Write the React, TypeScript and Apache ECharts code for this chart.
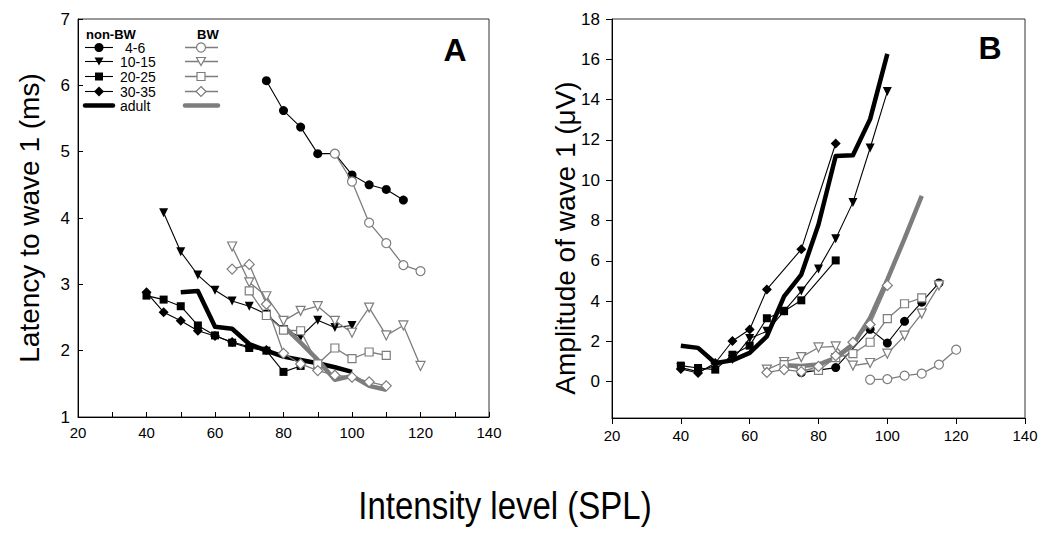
import React, { useEffect, useRef } from "react";
import * as echarts from "echarts";

// ---------- Panel A: latency to wave 1 (ms) ----------
const A_NON_4_6: [number, number][] = [[75, 6.07], [80, 5.62], [85, 5.37], [90, 4.97], [95, 4.97], [100, 4.65], [105, 4.5], [110, 4.43], [115, 4.27]];
const A_NON_10_15: [number, number][] = [[45, 4.08], [50, 3.49], [55, 3.14], [60, 2.91], [65, 2.75], [70, 2.67], [75, 2.55], [80, 2.32], [85, 2.21], [90, 2.46], [95, 2.35], [100, 2.38]];
const A_NON_20_25: [number, number][] = [[40, 2.83], [45, 2.77], [50, 2.67], [55, 2.38], [60, 2.23], [65, 2.12], [70, 2.04], [75, 2.0], [80, 1.68], [85, 1.77]];
const A_NON_30_35: [number, number][] = [[40, 2.88], [45, 2.58], [50, 2.45], [55, 2.3], [60, 2.22], [65, 2.13], [70, 2.06], [75, 2.01]];
const A_NON_ADULT: [number, number][] = [[50, 2.88], [55, 2.9], [60, 2.36], [65, 2.33], [70, 2.1], [75, 2.0], [80, 1.91], [85, 1.86], [90, 1.81], [95, 1.75], [100, 1.68]];
const A_BW_4_6: [number, number][] = [[95, 4.97], [100, 4.55], [105, 3.93], [110, 3.62], [115, 3.29], [120, 3.2]];
const A_BW_10_15: [number, number][] = [[65, 3.57], [70, 3.03], [75, 2.82], [80, 2.45], [85, 2.6], [90, 2.67], [95, 2.45], [100, 2.27], [105, 2.65], [110, 2.23], [115, 2.38], [120, 1.77]];
const A_BW_20_25: [number, number][] = [[70, 2.9], [75, 2.53], [80, 2.31], [85, 2.3], [90, 1.8], [95, 2.04], [100, 1.88], [105, 1.98], [110, 1.93]];
const A_BW_30_35: [number, number][] = [[65, 3.23], [70, 3.3], [75, 2.7], [80, 1.96], [85, 1.8], [90, 1.7], [95, 1.63], [100, 1.6], [105, 1.53], [110, 1.47]];
const A_BW_ADULT: [number, number][] = [[80, 2.37], [85, 2.12], [90, 1.86], [95, 1.56], [100, 1.62], [105, 1.47], [110, 1.41]];

// ---------- Panel B: amplitude of wave 1 (µV) ----------
const B_NON_4_6: [number, number][] = [[75, 0.45], [85, 0.7], [95, 2.6], [100, 1.92], [105, 3.0], [110, 3.95], [115, 4.9]];
const B_NON_10_15: [number, number][] = [[40, 0.7], [45, 0.5], [50, 0.8], [55, 1.1], [60, 2.15], [65, 2.5], [70, 3.5], [75, 4.5], [80, 5.6], [85, 7.1], [90, 8.9], [95, 11.6], [100, 14.4]];
const B_NON_20_25: [number, number][] = [[40, 0.8], [45, 0.68], [50, 0.6], [55, 1.34], [60, 1.79], [65, 3.15], [70, 3.5], [75, 4.04], [85, 6.02]];
const B_NON_30_35: [number, number][] = [[40, 0.63], [45, 0.43], [50, 0.93], [55, 2.02], [60, 2.59], [65, 4.58], [75, 6.57], [85, 11.82]];
const B_NON_ADULT: [number, number][] = [[40, 1.79], [45, 1.68], [50, 0.93], [55, 1.06], [60, 1.43], [65, 2.25], [70, 4.24], [75, 5.32], [80, 7.8], [85, 11.2], [90, 11.24], [95, 13.03], [100, 16.27]];
const B_BW_4_6: [number, number][] = [[95, 0.1], [100, 0.13], [105, 0.3], [110, 0.4], [115, 0.85], [120, 1.59]];
const B_BW_10_15: [number, number][] = [[65, 0.6], [70, 0.98], [75, 1.22], [80, 1.7], [85, 1.75], [90, 0.8], [95, 0.93], [100, 1.39], [105, 2.29], [110, 3.38], [115, 4.78]];
const B_BW_20_25: [number, number][] = [[70, 0.85], [75, 0.6], [80, 0.56], [85, 1.2], [90, 1.39], [95, 1.96], [100, 3.13], [105, 3.87], [110, 4.16]];
const B_BW_30_35: [number, number][] = [[65, 0.46], [70, 0.6], [75, 0.5], [80, 0.76], [85, 1.29], [90, 1.96], [95, 2.84], [100, 4.78]];
const B_BW_ADULT: [number, number][] = [[70, 0.82], [75, 0.78], [80, 0.85], [85, 1.18], [90, 1.84], [95, 3.17], [100, 5.07], [105, 7.1], [110, 9.22]];

// ---------- Tick values ----------
const X_LABELS = [20, 40, 60, 80, 100, 120, 140];
const X_TICKS_A = [20, 30, 40, 50, 60, 70, 80, 90, 100, 110, 120, 130, 140];
const Y_TICKS_A = [1, 2, 3, 4, 5, 6, 7];
const Y_TICKS_B = [0, 2, 4, 6, 8, 10, 12, 14, 16, 18];

const GROUPS = ["4-6", "10-15", "20-25", "30-35", "adult"];

const GRAY = "#7d7d7d";
const FONT = '"Liberation Sans", Arial, sans-serif';

type Kind = "circle" | "tri" | "square" | "diamond" | "adult";

function symbolOf(k: Kind) {
  if (k === "circle") return { symbol: "circle", symbolSize: 9, symbolRotate: 0 };
  if (k === "tri") return { symbol: "triangle", symbolSize: 9, symbolRotate: 180 };
  if (k === "square") return { symbol: "rect", symbolSize: 8, symbolRotate: 0 };
  if (k === "diamond") return { symbol: "diamond", symbolSize: 10, symbolRotate: 0 };
  return { symbol: "none", symbolSize: 0, symbolRotate: 0 };
}

function mkSeries(name: string, data: [number, number][], idx: number, kind: Kind, bw: boolean) {
  const s = symbolOf(kind);
  const isAdult = kind === "adult";
  return {
    type: "line",
    name,
    xAxisIndex: idx,
    yAxisIndex: idx,
    data,
    symbol: s.symbol,
    symbolSize: s.symbolSize,
    symbolRotate: s.symbolRotate,
    showSymbol: !isAdult,
    silent: true,
    z: bw ? 3 : 2,
    lineStyle: {
      color: bw ? GRAY : "#000",
      width: isAdult ? 4.5 : bw ? 1.3 : 1.1,
      join: "round",
    },
    itemStyle: bw
      ? { color: "#fff", borderColor: GRAY, borderWidth: 1.2 }
      : { color: "#000", borderColor: "#000", borderWidth: 0 },
  };
}

function legendMarker(kind: Kind, cx: number, cy: number, bw: boolean): any {
  const style = bw
    ? { fill: "#fff", stroke: GRAY, lineWidth: 1.2 }
    : { fill: "#000", stroke: "#000", lineWidth: 0 };
  if (kind === "circle") return { type: "circle", shape: { cx, cy, r: 4.5 }, style, z: 10 };
  if (kind === "tri")
    return { type: "polygon", shape: { points: [[cx - 4.5, cy - 4], [cx + 4.5, cy - 4], [cx, cy + 4]] }, style, z: 10 };
  if (kind === "square") return { type: "rect", shape: { x: cx - 4, y: cy - 4, width: 8, height: 8 }, style, z: 10 };
  return { type: "polygon", shape: { points: [[cx, cy - 5], [cx + 5, cy], [cx, cy + 5], [cx - 5, cy]] }, style, z: 10 };
}

function buildLegend(): any[] {
  const kinds: Kind[] = ["circle", "tri", "square", "diamond", "adult"];
  const rowsY = [47.5, 61.5, 76.5, 91.5, 105.5];
  const out: any[] = [
    { type: "text", x: 86, y: 34, style: { text: "non-BW", font: `bold 13px ${FONT}`, fill: "#000", textVerticalAlign: "middle" } },
    { type: "text", x: 197, y: 34, style: { text: "BW", font: `bold 13px ${FONT}`, fill: "#000", textVerticalAlign: "middle" } },
  ];
  kinds.forEach((k, i) => {
    const y = rowsY[i];
    const adult = k === "adult";
    out.push({ type: "line", shape: { x1: 85, y1: y, x2: 113, y2: y }, style: { stroke: "#000", lineWidth: adult ? 4.5 : 1.1, lineCap: adult ? "round" : "butt" }, z: 9 });
    out.push({ type: "line", shape: { x1: 185, y1: y, x2: 218, y2: y }, style: { stroke: GRAY, lineWidth: adult ? 4.5 : 1.3, lineCap: adult ? "round" : "butt" }, z: 9 });
    if (!adult) {
      out.push(legendMarker(k, 99, y, false));
      out.push(legendMarker(k, 201, y, true));
    }
    out.push({ type: "text", x: i === 0 ? 125 : 120, y, style: { text: GROUPS[i], font: `14px ${FONT}`, fill: "#000", textVerticalAlign: "middle" } });
  });
  return out;
}

export default function App() {
  const ref = useRef<HTMLDivElement>(null);
  useEffect(() => {
    if (!ref.current) return;
    const chart = echarts.init(ref.current, null, { renderer: "svg" });
    const kinds: Kind[] = ["circle", "tri", "square", "diamond", "adult"];
    const aNon = [A_NON_4_6, A_NON_10_15, A_NON_20_25, A_NON_30_35, A_NON_ADULT];
    const aBw = [A_BW_4_6, A_BW_10_15, A_BW_20_25, A_BW_30_35, A_BW_ADULT];
    const bNon = [B_NON_4_6, B_NON_10_15, B_NON_20_25, B_NON_30_35, B_NON_ADULT];
    const bBw = [B_BW_4_6, B_BW_10_15, B_BW_20_25, B_BW_30_35, B_BW_ADULT];
    const series: any[] = [];
    kinds.forEach((k, i) => series.push(mkSeries(`A non-BW ${GROUPS[i]}`, aNon[i], 0, k, false)));
    kinds.forEach((k, i) => series.push(mkSeries(`A BW ${GROUPS[i]}`, aBw[i], 0, k, true)));
    kinds.forEach((k, i) => series.push(mkSeries(`B non-BW ${GROUPS[i]}`, bNon[i], 1, k, false)));
    kinds.forEach((k, i) => series.push(mkSeries(`B BW ${GROUPS[i]}`, bBw[i], 1, k, true)));

    const axisLine = { show: true, onZero: false, lineStyle: { color: "#000", width: 1 } };
    const labelFont = { color: "#000", fontFamily: FONT };

    chart.setOption({
      animation: false,
      backgroundColor: "#fff",
      grid: [
        { left: 78, top: 19, width: 411, height: 398, show: true, borderColor: "#333", borderWidth: 1, backgroundColor: "transparent" },
        { left: 612, top: 19, width: 413, height: 399, show: true, borderColor: "#333", borderWidth: 1, backgroundColor: "transparent" },
      ],
      xAxis: [
        {
          type: "value", gridIndex: 0, min: 20, max: 140, interval: 20,
          axisLine,
          axisTick: { show: true, inside: true, length: 5, customValues: X_TICKS_A, lineStyle: { color: "#000" } },
          axisLabel: { ...labelFont, fontSize: 15, margin: 8, customValues: X_LABELS },
          splitLine: { show: false },
        },
        {
          type: "value", gridIndex: 1, min: 20, max: 140, interval: 20,
          axisLine,
          axisTick: { show: true, inside: false, length: 6, customValues: X_LABELS, lineStyle: { color: "#000" } },
          axisLabel: { ...labelFont, fontSize: 15, margin: 10, customValues: X_LABELS },
          splitLine: { show: false },
        },
      ],
      yAxis: [
        {
          type: "value", gridIndex: 0, min: 1, max: 7, interval: 1,
          axisLine,
          axisTick: { show: true, inside: true, length: 5, customValues: Y_TICKS_A, lineStyle: { color: "#000" } },
          axisLabel: { ...labelFont, fontSize: 17, margin: 8, customValues: Y_TICKS_A },
          splitLine: { show: false },
        },
        {
          type: "value", gridIndex: 1, min: -1.8, max: 18,
          axisLine,
          axisTick: { show: true, inside: false, length: 6, customValues: Y_TICKS_B, lineStyle: { color: "#000" } },
          axisLabel: { ...labelFont, fontSize: 17, margin: 12, customValues: Y_TICKS_B },
          splitLine: { show: false },
        },
      ],
      series,
      graphic: [
        ...buildLegend(),
        { type: "text", x: 455, y: 50, style: { text: "A", font: `bold 32px ${FONT}`, fill: "#000", textAlign: "center", textVerticalAlign: "middle" } },
        { type: "text", x: 990, y: 48, style: { text: "B", font: `bold 32px ${FONT}`, fill: "#000", textAlign: "center", textVerticalAlign: "middle" } },
        { type: "text", x: 29, y: 218, rotation: Math.PI / 2, style: { text: "Latency to wave 1 (ms)", font: `28px ${FONT}`, fill: "#000", textAlign: "center", textVerticalAlign: "middle" } },
        { type: "text", x: 565, y: 238, rotation: Math.PI / 2, style: { text: "Amplitude of wave 1 (\u03bcV)", font: `28px ${FONT}`, fill: "#000", textAlign: "center", textVerticalAlign: "middle" } },
        { type: "text", x: 505, y: 506, scaleY: 1.15, style: { text: "Intensity level (SPL)", font: `33px ${FONT}`, fill: "#000", textAlign: "center", textVerticalAlign: "middle" } },
      ],
    });
    return () => chart.dispose();
  }, []);
  return (
    <div
      ref={ref}
      style={{ position: "fixed", left: 0, top: 0, width: 1050, height: 534, background: "#fff" }}
    />
  );
}
